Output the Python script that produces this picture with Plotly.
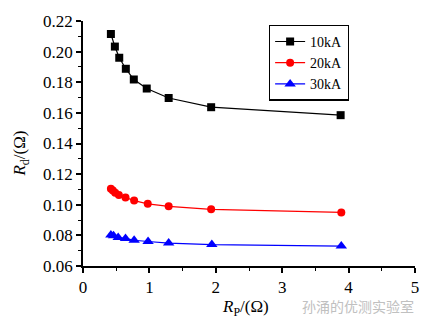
import plotly.graph_objects as go

# Series data
x_10 = [0.42, 0.48, 0.546, 0.645, 0.765, 0.96, 1.29, 1.93, 3.88]
y_10 = [0.2115, 0.2033, 0.196, 0.1888, 0.1818, 0.1759, 0.1697, 0.1637, 0.1585]

x_20 = [0.42, 0.45, 0.485, 0.54, 0.64, 0.77, 0.975, 1.29, 1.93, 3.89]
y_20 = [0.1105, 0.1093, 0.1078, 0.1064, 0.1047, 0.1027, 0.1006, 0.0990, 0.0970, 0.0950]

x_30 = [0.42, 0.46, 0.53, 0.64, 0.77, 0.98, 1.29, 1.94, 3.89]
y_30 = [0.0802, 0.0797, 0.0786, 0.0780, 0.0768, 0.0760, 0.0750, 0.0740, 0.0730]

series_names = ["10kA", "20kA", "30kA"]
colors = ["black", "red", "blue"]
symbols = ["square", "circle", "triangle-up"]
marker_sizes = [8, 8, 10]

FONT = "Liberation Serif"

fig = go.Figure()
for name, xs, ys, c, s, ms in zip(series_names, [x_10, x_20, x_30], [y_10, y_20, y_30],
                                   colors, symbols, marker_sizes):
    fig.add_trace(go.Scatter(
        x=xs, y=ys, name=name, mode="lines+markers",
        line=dict(color=c, width=1.2),
        marker=dict(symbol=s, size=ms, color=c),
    ))

axis_common = dict(
    showline=True, linecolor="black", linewidth=1.5,
    ticks="outside", ticklen=5, tickwidth=1.5, tickcolor="black",
    showgrid=False, zeroline=False, mirror=False,
    tickfont=dict(family=FONT, size=17, color="black"),
    minor=dict(ticks="outside", ticklen=3, tickwidth=1, tickcolor="black", nticks=2),
)

fig.update_layout(
    width=431, height=325,
    margin=dict(l=83, r=14, t=15, b=59),
    plot_bgcolor="white", paper_bgcolor="white",
    font=dict(family=FONT, color="black"),
    xaxis=dict(range=[0, 5], dtick=1, **axis_common),
    yaxis=dict(range=[0.06, 0.22], dtick=0.02, tickformat=".2f", **axis_common),
    legend=dict(
        x=0.56, y=0.985, xanchor="left", yanchor="top",
        bordercolor="black", borderwidth=1.2, bgcolor="white",
        font=dict(family=FONT, size=14, color="black"),
        itemwidth=30, tracegroupgap=0,
    ),
    showlegend=True,
)

fig.add_annotation(
    text="<i>R</i><sub>d</sub>/(Ω)", xref="paper", yref="paper",
    x=-0.225, y=0.46, textangle=-90, showarrow=False,
    font=dict(family=FONT, size=17, color="black"),
)
fig.add_annotation(
    text="<i>R</i><sub>P</sub>/(Ω)", xref="paper", yref="paper",
    x=0.49, y=-0.12, yanchor="top", showarrow=False,
    font=dict(family=FONT, size=17, color="black"),
)
fig.add_annotation(
    text="孙涌的优测实验室", xref="paper", yref="paper",
    x=1.003, y=-0.115, xanchor="right", yanchor="top", showarrow=False,
    font=dict(family="Noto Sans CJK SC", size=14, color="#c0c0c0"),
)

fig.write_html("out.html")
